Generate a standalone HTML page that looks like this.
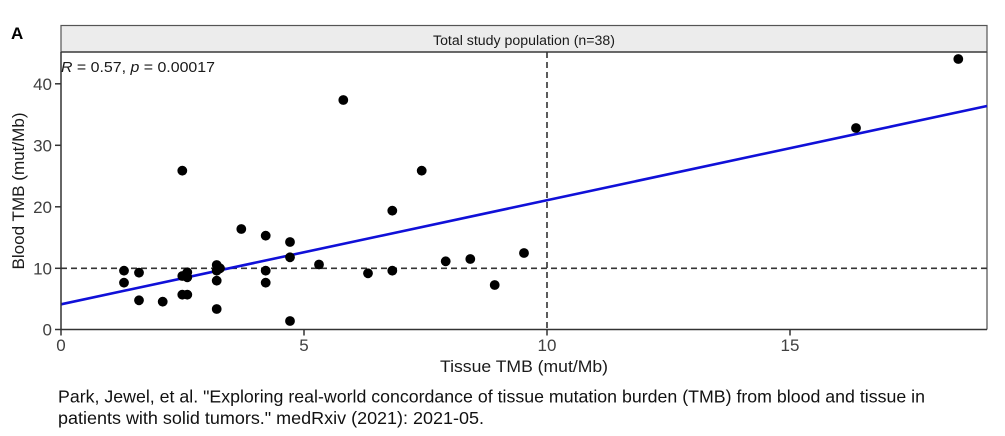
<!DOCTYPE html>
<html><head><meta charset="utf-8"><style>
html,body{margin:0;padding:0;background:#fff;}
svg{display:block;}
</style></head><body>
<svg width="1005" height="436" viewBox="0 0 1005 436" xmlns="http://www.w3.org/2000/svg">
<rect width="1005" height="436" fill="#fff"/>
<text x="11" y="39" font-family="Liberation Sans, sans-serif" font-weight="bold" font-size="17" fill="#000">A</text>
<!-- strip -->
<rect x="61" y="25.5" width="926" height="26.5" fill="#ececec" stroke="#555" stroke-width="1.2"/>
<text x="524" y="45" text-anchor="middle" font-family="Liberation Sans, sans-serif" font-size="13.5" fill="#1a1a1a" textLength="182" lengthAdjust="spacingAndGlyphs">Total study population (n=38)</text>
<!-- panel borders -->
<line x1="987" y1="52" x2="987" y2="329.5" stroke="#666" stroke-width="1.4"/>
<line x1="61" y1="52" x2="987" y2="52" stroke="#444" stroke-width="1.6"/>
<!-- dashed refs -->
<line x1="61" y1="268.3" x2="987" y2="268.3" stroke="#333" stroke-width="1.6" stroke-dasharray="6,4"/>
<line x1="547" y1="52" x2="547" y2="329.5" stroke="#333" stroke-width="1.6" stroke-dasharray="6,4"/>
<!-- regression -->
<line x1="61" y1="304.3" x2="987" y2="106" stroke="#1010d8" stroke-width="2.6"/>
<!-- points -->
<g fill="#000">
<circle cx="182.3" cy="170.7" r="4.9"/>
<circle cx="124" cy="270.7" r="4.9"/>
<circle cx="124" cy="282.7" r="4.9"/>
<circle cx="139" cy="272.7" r="4.9"/>
<circle cx="139" cy="300.3" r="4.9"/>
<circle cx="162.7" cy="301.7" r="4.9"/>
<circle cx="182.3" cy="276" r="4.9"/>
<circle cx="187.3" cy="272.3" r="4.9"/>
<circle cx="187.3" cy="277.3" r="4.9"/>
<circle cx="182.3" cy="294.7" r="4.9"/>
<circle cx="187.3" cy="294.7" r="4.9"/>
<circle cx="216.7" cy="265" r="4.9"/>
<circle cx="216.7" cy="270.7" r="4.9"/>
<circle cx="220" cy="268.3" r="4.9"/>
<circle cx="216.7" cy="280.7" r="4.9"/>
<circle cx="216.7" cy="309" r="4.9"/>
<circle cx="241.3" cy="229" r="4.9"/>
<circle cx="265.7" cy="235.7" r="4.9"/>
<circle cx="265.7" cy="270.7" r="4.9"/>
<circle cx="265.7" cy="282.7" r="4.9"/>
<circle cx="290" cy="242" r="4.9"/>
<circle cx="290" cy="257.3" r="4.9"/>
<circle cx="290" cy="321" r="4.9"/>
<circle cx="319" cy="264.5" r="4.9"/>
<circle cx="343.3" cy="100" r="4.9"/>
<circle cx="421.7" cy="170.7" r="4.9"/>
<circle cx="392.3" cy="210.7" r="4.9"/>
<circle cx="368" cy="273.3" r="4.9"/>
<circle cx="392.3" cy="270.7" r="4.9"/>
<circle cx="445.7" cy="261.3" r="4.9"/>
<circle cx="470.3" cy="259" r="4.9"/>
<circle cx="494.7" cy="285" r="4.9"/>
<circle cx="524" cy="253" r="4.9"/>
<circle cx="856" cy="128" r="4.9"/>
<circle cx="958.3" cy="59" r="4.9"/>
</g>
<!-- axes -->
<line x1="61" y1="52" x2="61" y2="330" stroke="#333" stroke-width="1.5"/>
<line x1="60.5" y1="329.5" x2="987" y2="329.5" stroke="#333" stroke-width="1.5"/>
<g stroke="#333" stroke-width="1.5">
<line x1="55" y1="329.5" x2="61" y2="329.5"/>
<line x1="55" y1="268.3" x2="61" y2="268.3"/>
<line x1="55" y1="206.8" x2="61" y2="206.8"/>
<line x1="55" y1="145.3" x2="61" y2="145.3"/>
<line x1="55" y1="83.8" x2="61" y2="83.8"/>
<line x1="61" y1="329.5" x2="61" y2="335.5"/>
<line x1="304" y1="329.5" x2="304" y2="335.5"/>
<line x1="547" y1="329.5" x2="547" y2="335.5"/>
<line x1="790" y1="329.5" x2="790" y2="335.5"/>
</g>
<g font-family="Liberation Sans, sans-serif" font-size="17" fill="#404040" text-anchor="end">
<text x="52" y="335.5">0</text>
<text x="52" y="274.3">10</text>
<text x="52" y="212.8">20</text>
<text x="52" y="151.3">30</text>
<text x="52" y="89.8">40</text>
</g>
<g font-family="Liberation Sans, sans-serif" font-size="17" fill="#404040" text-anchor="middle">
<text x="61" y="351">0</text>
<text x="304" y="351">5</text>
<text x="547" y="351">10</text>
<text x="790" y="351">15</text>
</g>
<text x="524" y="372" text-anchor="middle" font-family="Liberation Sans, sans-serif" font-size="16.5" fill="#1a1a1a" textLength="168" lengthAdjust="spacingAndGlyphs">Tissue TMB (mut/Mb)</text>
<text transform="translate(24,191) rotate(-90)" text-anchor="middle" font-family="Liberation Sans, sans-serif" font-size="16.5" fill="#1a1a1a" textLength="157" lengthAdjust="spacingAndGlyphs">Blood TMB (mut/Mb)</text>
<text x="61" y="72" font-family="Liberation Sans, sans-serif" font-size="15" fill="#1a1a1a" textLength="154" lengthAdjust="spacingAndGlyphs"><tspan font-style="italic">R</tspan> = 0.57, <tspan font-style="italic">p</tspan> = 0.00017</text>
<!-- caption -->
<text x="58" y="402.5" font-family="Liberation Sans, sans-serif" font-size="17.5" fill="#111" textLength="867" lengthAdjust="spacingAndGlyphs">Park, Jewel, et al. "Exploring real-world concordance of tissue mutation burden (TMB) from blood and tissue in</text>
<text x="58" y="424" font-family="Liberation Sans, sans-serif" font-size="17.5" fill="#111" textLength="426" lengthAdjust="spacingAndGlyphs">patients with solid tumors." medRxiv (2021): 2021-05.</text>
</svg>
</body></html>
